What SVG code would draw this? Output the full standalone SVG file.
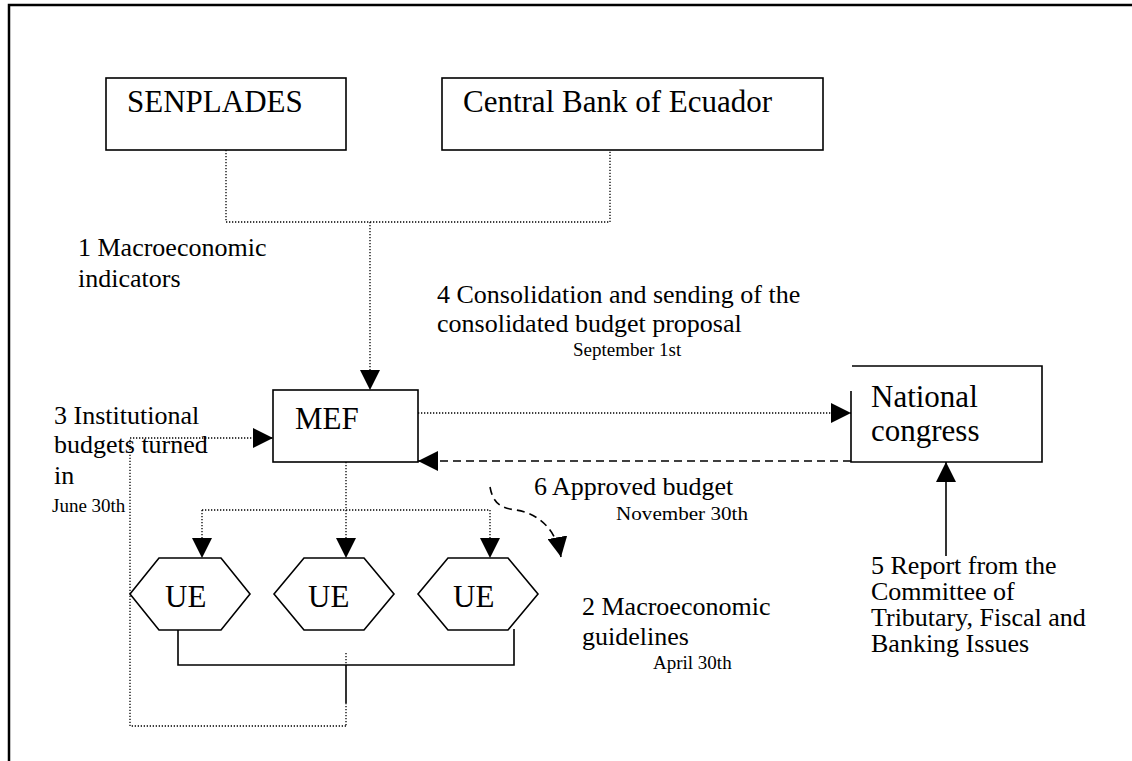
<svg xmlns="http://www.w3.org/2000/svg" width="1132" height="761" viewBox="0 0 1132 761">
<defs>
<marker id="ah" viewBox="0 0 20 20" refX="20" refY="10" markerWidth="20" markerHeight="20" markerUnits="userSpaceOnUse" orient="auto"><path d="M0,0 L20,10 L0,20 z" fill="#000"/></marker>
</defs>
<style>
.box{fill:#fff;stroke:#000;stroke-width:1.6}
.t{font-family:"Liberation Serif","Times New Roman",serif;fill:#000}
.big{font-size:31px}
.lab{font-size:26px}
.sm{font-size:19px}
.dot{fill:none;stroke:#000;stroke-width:1.3;stroke-dasharray:1.3 1.7}
.dash{fill:none;stroke:#000;stroke-width:1.6;stroke-dasharray:8 5}
.sol{fill:none;stroke:#000;stroke-width:1.6}
</style>
<rect width="1132" height="761" fill="#fff"/>
<path d="M9,761 V5 H1132" fill="none" stroke="#000" stroke-width="2.5"/>

<g id="connectors">
<path class="dot" d="M226,150 V222 H610 V150"/>
<path class="dot" d="M370,222 V390" marker-end="url(#ah)"/>
<path class="dot" d="M346,726 H130 V438 H273" marker-end="url(#ah)"/>
<path class="sol" d="M178,630 V665 H514 V629"/>
<path class="sol" d="M346,665 V703"/>
<path class="dot" d="M346,703 V726"/>
<path class="dot" d="M346,653 V665"/>
<path class="dot" d="M346,462 V558" marker-end="url(#ah)"/>
<path class="dot" d="M202,510 H490"/>
<path class="dot" d="M202,510 V558" marker-end="url(#ah)"/>
<path class="dot" d="M490,510 V558" marker-end="url(#ah)"/>
<path class="dot" d="M418,413 H851" marker-end="url(#ah)"/>
<path class="dash" d="M851,461 H418" marker-end="url(#ah)"/>
<path class="sol" d="M946,556 V462" marker-end="url(#ah)"/>
<path class="dash" d="M490,487 C493,503 500,508 516,510 C540,514 556,530 561,557" marker-end="url(#ah)"/>
</g>

<g id="senplades">
<rect class="box" x="106" y="78" width="240" height="72"/>
<text class="t big" x="127" y="112">SENPLADES</text>
</g>
<g id="central-bank">
<rect class="box" x="442" y="78" width="381" height="72"/>
<text class="t big" x="463" y="112">Central Bank of Ecuador</text>
</g>
<g id="mef">
<rect class="box" x="273" y="390" width="145" height="72"/>
<text class="t big" x="295" y="429">MEF</text>
</g>
<g id="national-congress">
<path d="M852,366 H1042 V462 H851 V391" fill="#fff" stroke="#000" stroke-width="1.6"/>
<text class="t big" x="871" y="407">National</text>
<text class="t big" x="871" y="441">congress</text>
</g>
<g id="ue1">
<polygon class="box" points="130,594 159,558 221,558 250,594 221,630 159,630"/>
<text class="t big" x="165" y="607">UE</text>
</g>
<g id="ue2">
<polygon class="box" points="274,594 304,558 364,558 394,594 364,630 304,630"/>
<text class="t big" x="308" y="607">UE</text>
</g>
<g id="ue3">
<polygon class="box" points="418,594 448,558 508,558 538,594 508,630 448,630"/>
<text class="t big" x="453" y="607">UE</text>
</g>

<g id="labels">
<text class="t lab" x="78" y="256">1 Macroeconomic</text>
<text class="t lab" x="78" y="287">indicators</text>
<text class="t lab" x="437" y="303">4 Consolidation and sending of the</text>
<text class="t lab" x="437" y="332">consolidated budget proposal</text>
<text class="t sm" x="573" y="356">September 1st</text>
<text class="t lab" x="54" y="424">3 Institutional</text>
<text class="t lab" x="54" y="453">budgets turned</text>
<text class="t lab" x="54" y="484">in</text>
<text class="t sm" x="52" y="512">June 30th</text>
<text class="t lab" x="534" y="495">6 Approved budget</text>
<text class="t sm" x="616" y="520" textLength="132" lengthAdjust="spacingAndGlyphs">November 30th</text>
<text class="t lab" x="582" y="615">2 Macroeconomic</text>
<text class="t lab" x="582" y="645">guidelines</text>
<text class="t sm" x="653" y="669">April 30th</text>
<text class="t lab" x="871" y="574">5 Report from the</text>
<text class="t lab" x="871" y="600">Committee of</text>
<text class="t lab" x="871" y="626">Tributary, Fiscal and</text>
<text class="t lab" x="871" y="652">Banking Issues</text>
</g>
</svg>
